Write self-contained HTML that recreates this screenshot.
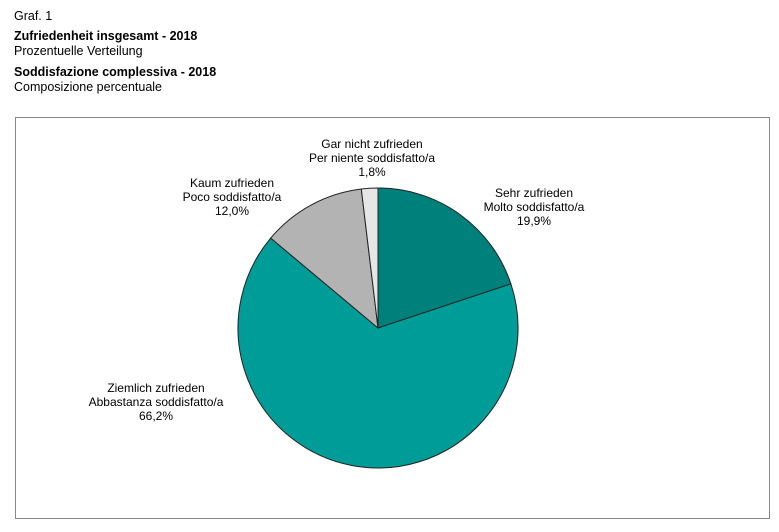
<!DOCTYPE html>
<html><head><meta charset="utf-8"><style>
body{margin:0;background:#fff;width:779px;height:527px;overflow:hidden;font-family:"Liberation Sans",Arial,sans-serif;}
svg text{font-family:"Liberation Sans",Arial,sans-serif;fill:#000;}
</style></head><body>
<svg width="779" height="527" xmlns="http://www.w3.org/2000/svg">
<text x="14" y="20" font-size="12.5">Graf. 1</text>
<text x="14" y="40" font-size="12.5" font-weight="bold">Zufriedenheit insgesamt - 2018</text>
<text x="14" y="55" font-size="12.5">Prozentuelle Verteilung</text>
<text x="14" y="76" font-size="12.5" font-weight="bold">Soddisfazione complessiva - 2018</text>
<text x="14" y="91" font-size="12.5">Composizione percentuale</text>
<rect x="15.5" y="117.5" width="754" height="401" fill="none" stroke="#888" stroke-width="1"/>
<g stroke="#222" stroke-width="1">
<path d="M378,328 L378,188 A140,140 0 0,1 510.9,283.9 Z" fill="#00807a"/>
<path d="M378,328 L510.9,283.9 A140,140 0 1,1 270.7,238.1 Z" fill="#009c98"/>
<path d="M378,328 L270.7,238.1 A140,140 0 0,1 361.3,189 Z" fill="#b3b3b3"/>
<path d="M378,328 L361.3,189 A140,140 0 0,1 378,188 Z" fill="#e6e6e6"/>
</g>
<g font-size="12" text-anchor="middle">
<text x="372" y="148">Gar nicht zufrieden</text>
<text x="372" y="162">Per niente soddisfatto/a</text>
<text x="372" y="176">1,8%</text>
<text x="232" y="187">Kaum zufrieden</text>
<text x="232" y="201">Poco soddisfatto/a</text>
<text x="232" y="215">12,0%</text>
<text x="534" y="197">Sehr zufrieden</text>
<text x="534" y="211">Molto soddisfatto/a</text>
<text x="534" y="225">19,9%</text>
<text x="156" y="392">Ziemlich zufrieden</text>
<text x="156" y="406">Abbastanza soddisfatto/a</text>
<text x="156" y="420">66,2%</text>
</g>
</svg>
</body></html>
